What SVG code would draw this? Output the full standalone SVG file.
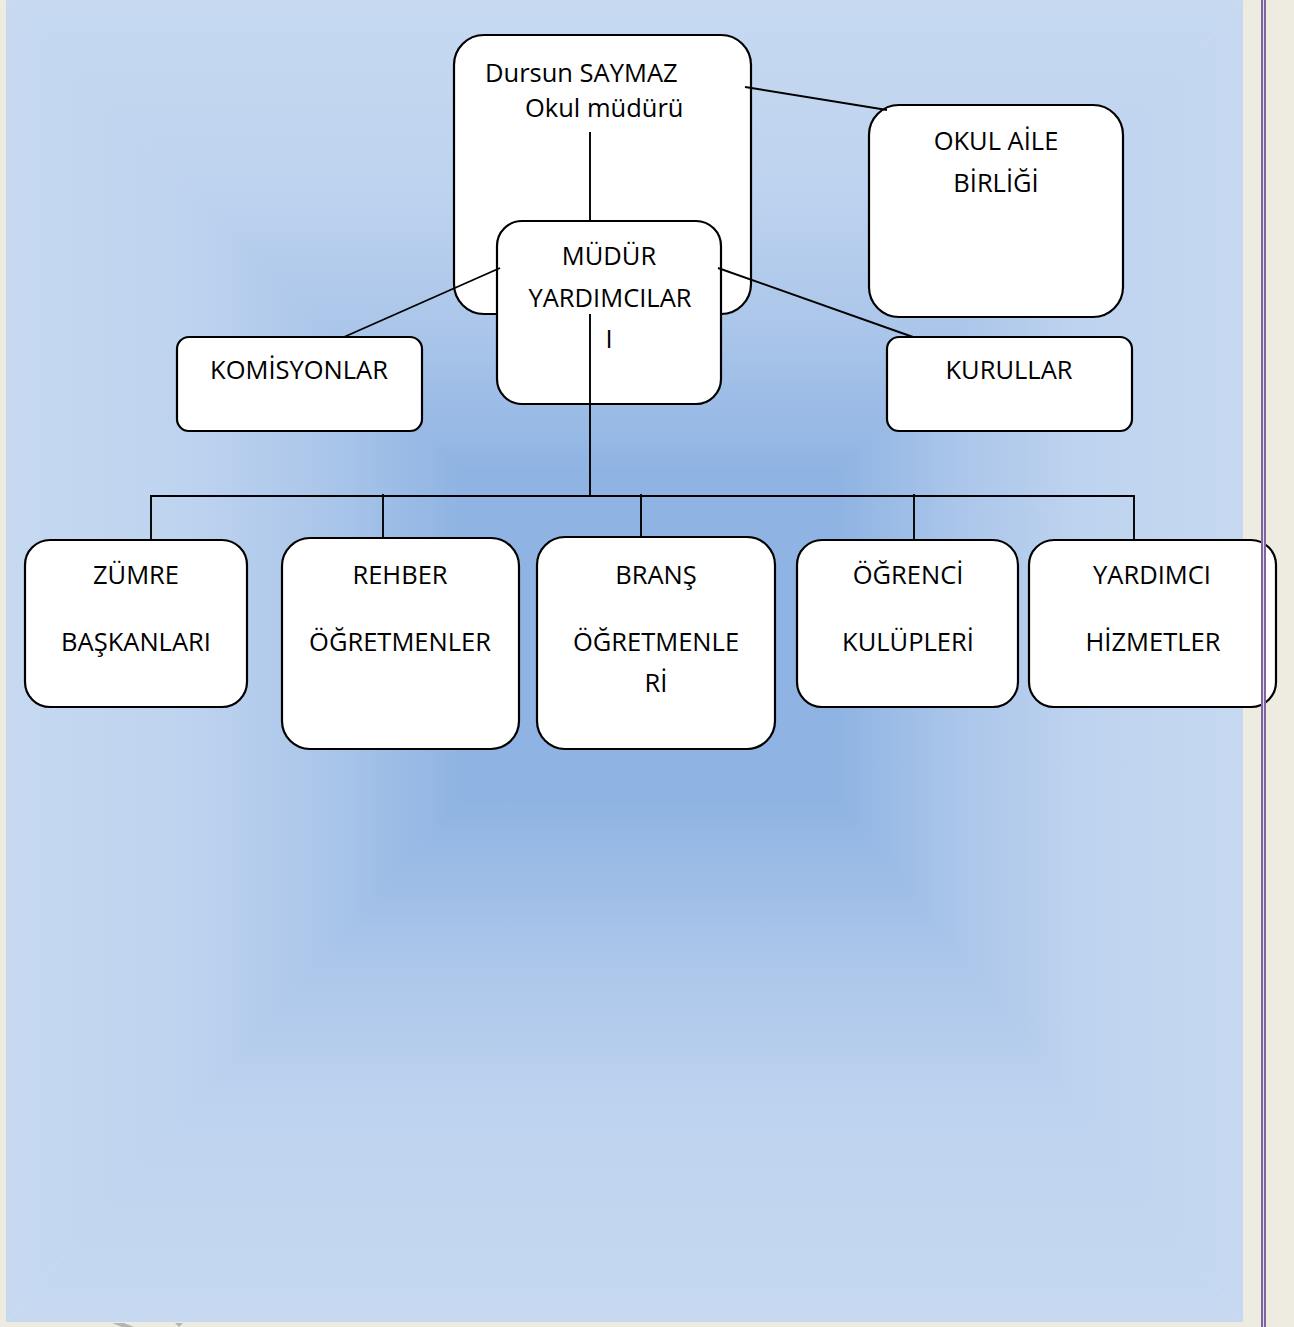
<svg xmlns="http://www.w3.org/2000/svg" width="1294" height="1327" viewBox="0 0 1294 1327">
<defs>
<style>
.box{fill:#ffffff;stroke:#000000;stroke-width:2.2}
.t{font-family:"Open Sans","Liberation Sans",sans-serif;font-size:25.5px;fill:#000000}
.c{text-anchor:middle}
.ln{stroke:#000000;stroke-width:1.9;fill:none}
</style>
<linearGradient id="gTop" gradientUnits="userSpaceOnUse" x1="0" y1="0" x2="0" y2="470">
<stop offset="0" stop-color="#c6d9f1"/><stop offset="0.4" stop-color="#bed3ef"/><stop offset="0.7" stop-color="#abc6ea"/><stop offset="1" stop-color="#8fb4e3"/>
</linearGradient>
<linearGradient id="gBot" gradientUnits="userSpaceOnUse" x1="0" y1="1322" x2="0" y2="800">
<stop offset="0" stop-color="#c6d9f1"/><stop offset="0.4" stop-color="#bed3ef"/><stop offset="0.7" stop-color="#abc6ea"/><stop offset="1" stop-color="#8fb4e3"/>
</linearGradient>
<linearGradient id="gLeft" gradientUnits="userSpaceOnUse" x1="6" y1="0" x2="460" y2="0">
<stop offset="0" stop-color="#c6d9f1"/><stop offset="0.4" stop-color="#bed3ef"/><stop offset="0.7" stop-color="#abc6ea"/><stop offset="1" stop-color="#8fb4e3"/>
</linearGradient>
<linearGradient id="gRight" gradientUnits="userSpaceOnUse" x1="1243" y1="0" x2="840" y2="0">
<stop offset="0" stop-color="#c6d9f1"/><stop offset="0.4" stop-color="#bed3ef"/><stop offset="0.7" stop-color="#abc6ea"/><stop offset="1" stop-color="#8fb4e3"/>
</linearGradient>
</defs>

<g id="page">
<rect x="0" y="0" width="1294" height="1327" fill="#eeece1"/>
<rect x="458" y="468" width="384" height="334" fill="#8fb4e3"/>
<polygon points="6,0 6,1322 461,800 461,470" fill="url(#gLeft)"/>
<polygon points="1243,0 1243,1322 839,800 839,470" fill="url(#gRight)"/>
<polygon points="6,0 1243,0 840,470 460,470" fill="url(#gTop)"/>
<polygon points="6,1322 1243,1322 840,800 460,800" fill="url(#gBot)"/>
<path d="M112 1323 L122 1327 L134 1327 L124 1323 Z M175 1323 L183 1323 L179 1327 Z" fill="#b4b4b4"/>
</g>

<g id="n-mudur">
<rect class="box" x="454" y="35" width="297" height="279" rx="30"/>
<text class="t" x="485" y="82">Dursun SAYMAZ</text>
<text class="t" x="525" y="117">Okul müdürü</text>
</g>

<g id="n-aile">
<rect class="box" x="869" y="105" width="254" height="212" rx="30"/>
<text class="t c" x="996" y="150">OKUL AİLE</text>
<text class="t c" x="996" y="192">BİRLİĞİ</text>
</g>

<g id="n-yard">
<rect class="box" x="497" y="221" width="224" height="183" rx="25"/>
<text class="t c" x="609" y="265">MÜDÜR</text>
<text class="t c" x="610" y="307">YARDIMCILAR</text>
<text class="t c" x="609" y="348">I</text>
</g>

<g id="n-komisyon">
<rect class="box" x="177" y="337" width="245" height="94" rx="12"/>
<text class="t c" x="299" y="379">KOMİSYONLAR</text>
</g>

<g id="n-kurul">
<rect class="box" x="887" y="337" width="245" height="94" rx="12"/>
<text class="t c" x="1009" y="379">KURULLAR</text>
</g>

<g id="n-zumre">
<rect class="box" x="25" y="540" width="222" height="167" rx="25"/>
<text class="t c" x="136" y="584">ZÜMRE</text>
<text class="t c" x="136" y="651">BAŞKANLARI</text>
</g>

<g id="n-rehber">
<rect class="box" x="282" y="538" width="237" height="211" rx="28"/>
<text class="t c" x="400" y="584">REHBER</text>
<text class="t c" x="400" y="651">ÖĞRETMENLER</text>
</g>

<g id="n-brans">
<rect class="box" x="537" y="537" width="238" height="212" rx="28"/>
<text class="t c" x="656" y="584">BRANŞ</text>
<text class="t c" x="656" y="651">ÖĞRETMENLE</text>
<text class="t c" x="656" y="692">Rİ</text>
</g>

<g id="n-ogrenci">
<rect class="box" x="797" y="540" width="221" height="167" rx="25"/>
<text class="t c" x="908" y="584">ÖĞRENCİ</text>
<text class="t c" x="908" y="651">KULÜPLERİ</text>
</g>

<g id="n-hizmet">
<rect class="box" x="1029" y="540" width="247" height="167" rx="25"/>
<text class="t c" x="1152" y="584">YARDIMCI</text>
<text class="t c" x="1153" y="651">HİZMETLER</text>
</g>

<g id="connectors">
<line class="ln" x1="590" y1="132" x2="590" y2="222"/>
<line class="ln" x1="745" y1="87" x2="887" y2="110"/>
<line class="ln" x1="500" y1="268" x2="344" y2="337"/>
<line class="ln" x1="718" y1="268" x2="913" y2="337"/>
<line class="ln" x1="590" y1="314" x2="590" y2="496"/>
<line class="ln" x1="151" y1="496" x2="1134" y2="496"/>
<line class="ln" x1="151" y1="495" x2="151" y2="540"/>
<line class="ln" x1="383" y1="494" x2="383" y2="538"/>
<line class="ln" x1="641" y1="494" x2="641" y2="537"/>
<line class="ln" x1="914" y1="494" x2="914" y2="540"/>
<line class="ln" x1="1134" y1="495" x2="1134" y2="540"/>
</g>

<g id="margin">
<rect x="1263" y="0" width="1" height="1327" fill="#e2deea"/>
<rect x="1261" y="0" width="2" height="1327" fill="#8064a2"/>
<rect x="1264" y="0" width="2" height="1327" fill="#8064a2"/>
</g>
</svg>
